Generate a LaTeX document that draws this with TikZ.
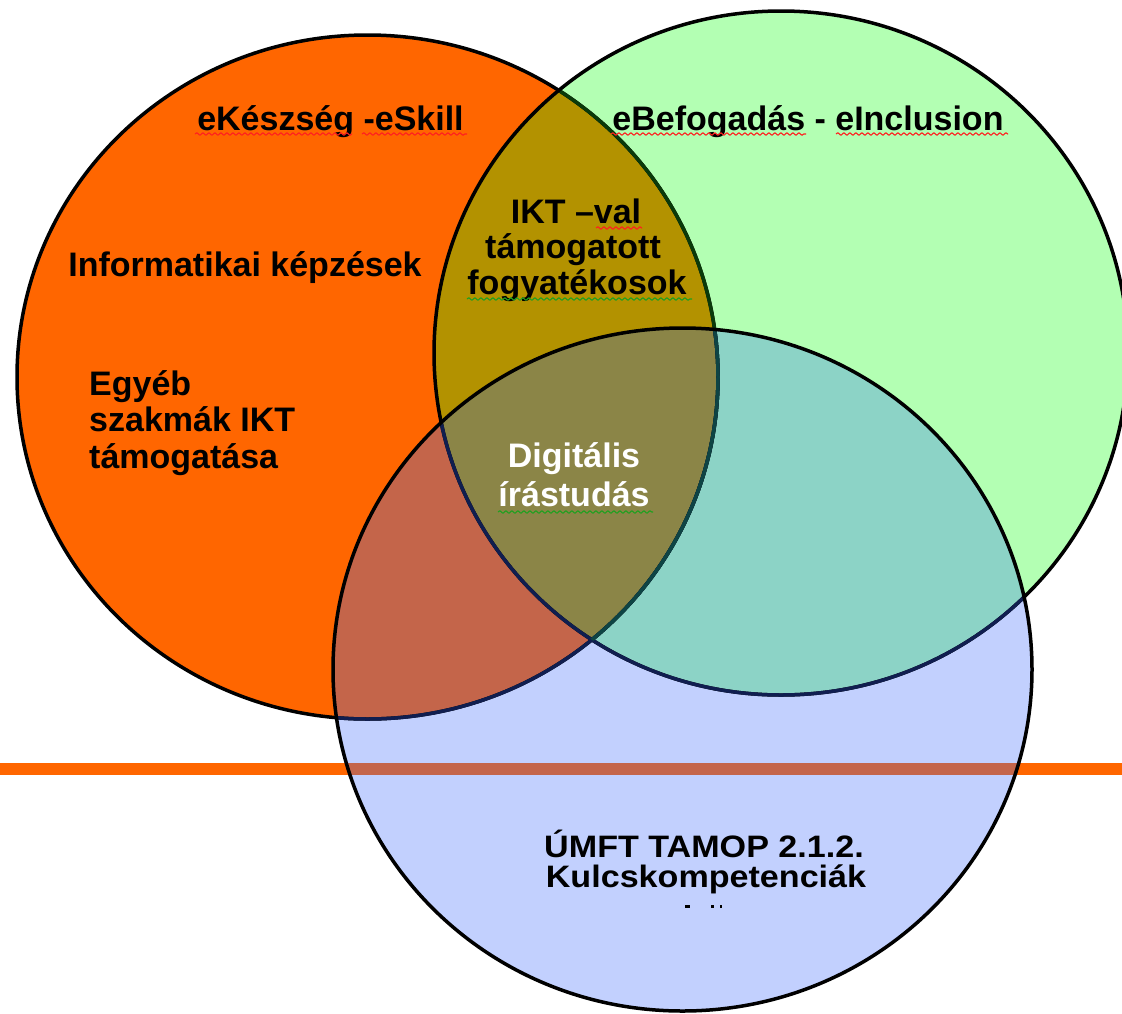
\documentclass[tikz,border=0pt]{standalone}
\usepackage{fontspec}
\setmainfont{Liberation Sans}
\newfontfamily\umftfont{Liberation Sans}[FakeStretch=1.1]
\usetikzlibrary{decorations.pathmorphing}
\definecolor{orng}{HTML}{FF6600}
\definecolor{grn}{HTML}{B3FFB3}
\definecolor{blu}{HTML}{C2D0FE}
\definecolor{oliv}{HTML}{B39200}
\definecolor{orblu}{HTML}{C4654A}
\definecolor{grblu}{HTML}{8CD3C6}
\definecolor{trip}{HTML}{8B8547}
\definecolor{dkgreen}{HTML}{0A3A0A}
\definecolor{navy}{HTML}{101E50}
\definecolor{dkteal}{HTML}{0E4444}
\definecolor{spellred}{HTML}{FF2020}
\definecolor{spellgreen}{HTML}{20A020}
\tikzset{
  outl/.style={line width=3.5pt},
  lbl/.style={font=\fontsize{34}{37}\selectfont\bfseries, inner sep=0pt, anchor=base},
  lblw/.style={lbl, anchor=base west},
  umft/.style={font=\umftfont\fontsize{31}{34}\selectfont\bfseries, inner sep=0pt, anchor=base},
  wavy/.style={line width=1.1pt, decorate, decoration={snake, amplitude=1.3pt, segment length=6pt}},
  band/.style={line width=12pt}
}
\def\orangeE{(367.5,377) ellipse [x radius=350.5, y radius=342]}
\def\greenE{(781,353) ellipse [x radius=347, y radius=342]}
\def\blueE{(682.5,669.5) ellipse [x radius=349.5, y radius=341.5]}
\begin{document}
\begin{tikzpicture}[x=1pt,y=-1pt,line join=round]
\useasboundingbox (0,0) rectangle (1122,1013);
\fill[white] (0,0) rectangle (1122,1013);
\clip (0,0) rectangle (1122,1013);
\coordinate (bandL) at (0,769);
\coordinate (bandR) at (1122,769);
% fills
\fill[orng] \orangeE;
\fill[grn] \greenE;
\begin{scope}
  \clip \orangeE;
  \fill[oliv] \greenE;
\end{scope}
\draw[orng, band] (bandL) -- (bandR);
\fill[blu] \blueE;
\begin{scope}
  \clip \blueE;
  \fill[orblu] \orangeE;
  \fill[grblu] \greenE;
  \draw[orblu, band] (bandL) -- (bandR);
  \clip \orangeE;
  \fill[trip] \greenE;
\end{scope}
% outlines
\draw[outl] \orangeE;
\begin{scope}
  \clip \greenE;
  \draw[outl, dkgreen] \orangeE;
\end{scope}
\draw[outl] \greenE;
\begin{scope}
  \clip \blueE;
  \draw[outl, navy] \orangeE;
  \draw[outl, navy] \greenE;
  \clip \greenE;
  \draw[outl, dkteal] \orangeE;
\end{scope}
\draw[outl] \blueE;
% texts
\node[lbl] (skill) at (330.5,130) {eKészség -eSkill};
\node[lbl] (incl) at (808,130) {eBefogadás - eInclusion};
\node[lbl] (inf) at (245,276) {Informatikai képzések};
\node[lblw] (egy1) at (89,395) {Egyéb};
\node[lblw] (egy2) at (89,431) {szakmák IKT};
\node[lblw] (egy3) at (89,468) {támogatása};
\node[lbl] (ikt1) at (576,223) {IKT –val};
\node[lbl] (ikt2) at (573,258) {támogatott};
\node[lbl] (ikt3) at (577,294) {fogyatékosok};
\node[lbl, text=white] (dig1) at (574,467) {Digitális};
\node[lbl, text=white] (dig2) at (574,506) {írástudás};
\node[umft] (um1) at (704,857) {ÚMFT TAMOP 2.1.2.};
\node[umft] (um2) at (706,887) {Kulcskompetenciák};
\fill (685,904.5) rectangle (690,907.5);
\fill (711,904.5) rectangle (713.5,907.5);
\fill (719.5,904.5) rectangle (722,907.5);
% spell-check underlines
\draw[wavy, spellred] (195,134) -- (352,134);
\draw[wavy, spellred] (362,134) -- (467,134);
\draw[wavy, spellred] (611,134) -- (806,134);
\draw[wavy, spellred] (836,134) -- (1008,134);
\draw[wavy, spellred] (596,228) -- (642,228);
\draw[wavy, spellgreen] (467,299) -- (692,299);
\draw[wavy, spellgreen] (498,512) -- (653,512);
\end{tikzpicture}
\end{document}
